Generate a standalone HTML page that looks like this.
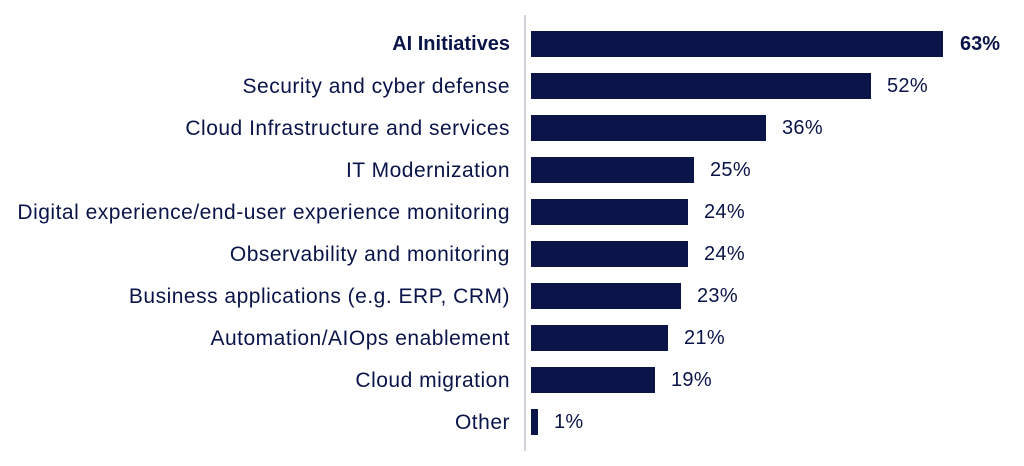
<!DOCTYPE html>
<html><head><style>
body{margin:0;width:1024px;height:466px;background:#fff;font-family:"Liberation Sans",sans-serif;color:#0a1449;position:relative;overflow:hidden}
.ax{position:absolute;left:524px;top:15px;width:2px;height:436px;background:#d0d2da}
.l{position:absolute;right:514px;font-size:21px;letter-spacing:0.5px;line-height:27px;white-space:nowrap}
.b{position:absolute;left:531px;height:26px;background:#0a1449}
.v{position:absolute;font-size:20px;letter-spacing:0.3px;line-height:27px}
</style></head><body>
<div class="ax"></div>
<div class="l" style="top:31px;font-weight:bold;letter-spacing:0;font-size:20px">AI Initiatives</div><div class="b" style="top:31px;width:412px"></div><div class="v" style="top:31px;left:960px;font-weight:bold;letter-spacing:0">63%</div>
<div class="l" style="top:73px">Security and cyber defense</div><div class="b" style="top:73px;width:340px"></div><div class="v" style="top:73px;left:887px">52%</div>
<div class="l" style="top:115px">Cloud Infrastructure and services</div><div class="b" style="top:115px;width:235px"></div><div class="v" style="top:115px;left:782px">36%</div>
<div class="l" style="top:157px">IT Modernization</div><div class="b" style="top:157px;width:163px"></div><div class="v" style="top:157px;left:710px">25%</div>
<div class="l" style="top:199px">Digital experience/end-user experience monitoring</div><div class="b" style="top:199px;width:157px"></div><div class="v" style="top:199px;left:704px">24%</div>
<div class="l" style="top:241px">Observability and monitoring</div><div class="b" style="top:241px;width:157px"></div><div class="v" style="top:241px;left:704px">24%</div>
<div class="l" style="top:283px">Business applications (e.g. ERP, CRM)</div><div class="b" style="top:283px;width:150px"></div><div class="v" style="top:283px;left:697px">23%</div>
<div class="l" style="top:325px">Automation/AIOps enablement</div><div class="b" style="top:325px;width:137px"></div><div class="v" style="top:325px;left:684px">21%</div>
<div class="l" style="top:367px">Cloud migration</div><div class="b" style="top:367px;width:124px"></div><div class="v" style="top:367px;left:671px">19%</div>
<div class="l" style="top:409px">Other</div><div class="b" style="top:409px;width:7px"></div><div class="v" style="top:409px;left:554px">1%</div>
</body></html>
